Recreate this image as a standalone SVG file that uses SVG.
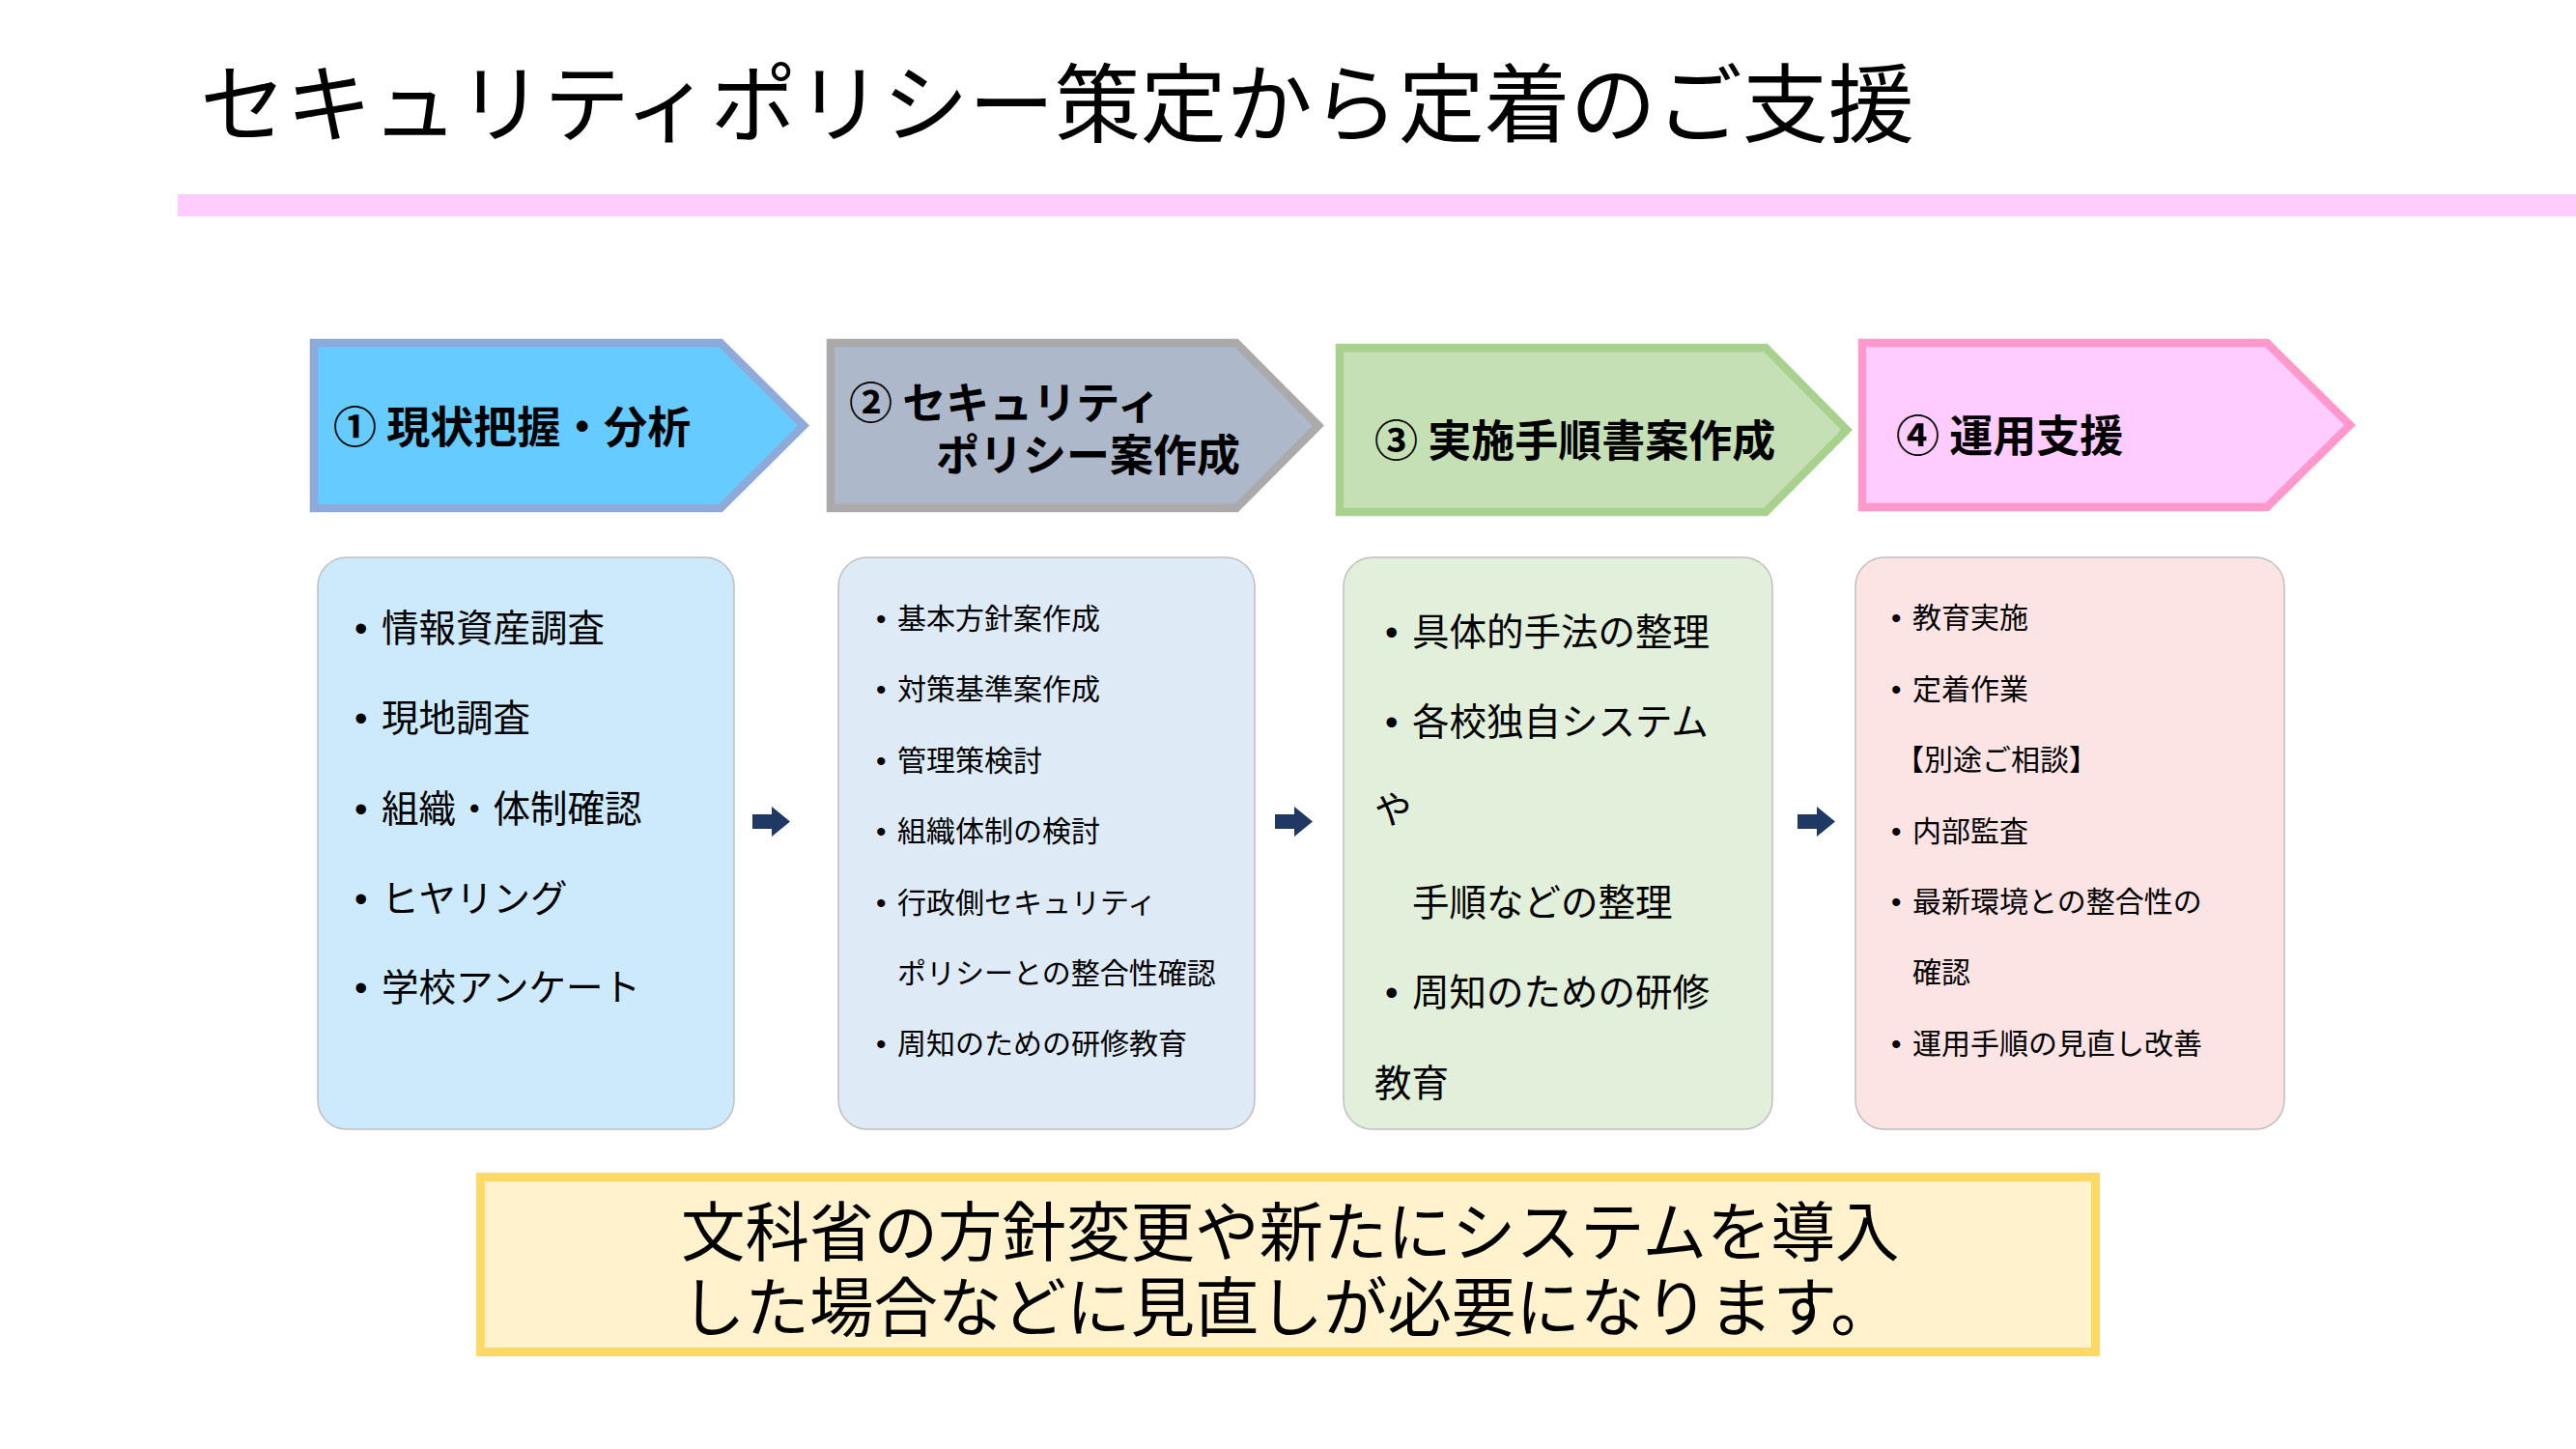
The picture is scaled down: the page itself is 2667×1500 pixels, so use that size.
<svg xmlns="http://www.w3.org/2000/svg" width="2667" height="1500" viewBox="0 0 2667 1500">
<defs>
<style>
text{font-family:"Noto Sans CJK JP","Noto Sans CJK SC",sans-serif;fill:#000}
.title{font-size:89px}
.hd{font-size:45px;font-weight:bold}
.big{font-size:38.5px}
.sm{font-size:30px}
.bl{font-family:"Liberation Sans",sans-serif}
.note{font-size:66.5px}
.card{stroke:#bfbfbf;stroke-width:1.5}
.arrow{fill:#1f3864}
</style>
</defs>
<rect width="2667" height="1500" fill="#ffffff"/>
<g id="title">
<text class="title" x="207" y="140">セキュリティポリシー策定から定着のご支援</text>
<rect x="184" y="201" width="2483" height="23" fill="#ffccff"/>
</g>

<g id="step1">
<polygon points="325,355 746,355 832,440.5 746,526 325,526" fill="#66ccff" stroke="#8eaadb" stroke-width="8.5"/>
<text class="hd" x="345" y="459">① 現状把握・分析</text>
</g>
<g id="step2">
<polygon points="860,355 1280,355 1365,440.5 1280,526 860,526" fill="#adb9ca" stroke="#aba9a9" stroke-width="8.5"/>
<text class="hd"><tspan x="879" y="434">② セキュリティ</tspan><tspan x="969" y="488">ポリシー案作成</tspan></text>
</g>
<g id="step3">
<polygon points="1387,360 1828,360 1912,445 1828,530 1387,530" fill="#c5e0b4" stroke="#a9d18e" stroke-width="8.5"/>
<text class="hd" x="1423" y="473">③ 実施手順書案作成</text>
</g>
<g id="step4">
<polygon points="1928,355 2347,355 2433,440 2347,525 1928,525" fill="#ffccff" stroke="#ff99cc" stroke-width="8.5"/>
<text class="hd" x="1963" y="468">④ 運用支援</text>
</g>

<g id="card1">
<rect class="card" x="329" y="577" width="431" height="592" rx="30" fill="#cdeafc"/>
<text class="big"><tspan class="bl" x="367" y="664">•</tspan><tspan x="395">情報資産調査</tspan></text>
<text class="big"><tspan class="bl" x="367" y="757">•</tspan><tspan x="395">現地調査</tspan></text>
<text class="big"><tspan class="bl" x="367" y="851">•</tspan><tspan x="395">組織・体制確認</tspan></text>
<text class="big"><tspan class="bl" x="367" y="944">•</tspan><tspan x="395">ヒヤリング</tspan></text>
<text class="big"><tspan class="bl" x="367" y="1036">•</tspan><tspan x="395">学校アンケート</tspan></text>
</g>
<g id="card2">
<rect class="card" x="868" y="577" width="431" height="592" rx="30" fill="#deebf7"/>
<text class="sm"><tspan class="bl" x="907" y="651">•</tspan><tspan x="929">基本方針案作成</tspan></text>
<text class="sm"><tspan class="bl" x="907" y="724">•</tspan><tspan x="929">対策基準案作成</tspan></text>
<text class="sm"><tspan class="bl" x="907" y="798">•</tspan><tspan x="929">管理策検討</tspan></text>
<text class="sm"><tspan class="bl" x="907" y="871">•</tspan><tspan x="929">組織体制の検討</tspan></text>
<text class="sm"><tspan class="bl" x="907" y="945">•</tspan><tspan x="929">行政側セキュリティ</tspan></text>
<text class="sm" x="929" y="1018">ポリシーとの整合性確認</text>
<text class="sm"><tspan class="bl" x="907" y="1091">•</tspan><tspan x="929">周知のための研修教育</tspan></text>
</g>
<g id="card3">
<rect class="card" x="1391" y="577" width="444" height="592" rx="30" fill="#e2efda"/>
<text class="big"><tspan class="bl" x="1434" y="668">•</tspan><tspan x="1462">具体的手法の整理</tspan></text>
<text class="big"><tspan class="bl" x="1434" y="761">•</tspan><tspan x="1462">各校独自システム</tspan></text>
<text class="big" x="1423" y="852">や</text>
<text class="big" x="1462" y="948">手順などの整理</text>
<text class="big"><tspan class="bl" x="1434" y="1041">•</tspan><tspan x="1462">周知のための研修</tspan></text>
<text class="big" x="1423" y="1135">教育</text>
</g>
<g id="card4">
<rect class="card" x="1921" y="577" width="444" height="592" rx="30" fill="#fde4e4"/>
<text class="sm"><tspan class="bl" x="1958" y="650">•</tspan><tspan x="1980">教育実施</tspan></text>
<text class="sm"><tspan class="bl" x="1958" y="724">•</tspan><tspan x="1980">定着作業</tspan></text>
<text class="sm" x="1962" y="797">【別途ご相談】</text>
<text class="sm"><tspan class="bl" x="1958" y="871">•</tspan><tspan x="1980">内部監査</tspan></text>
<text class="sm"><tspan class="bl" x="1958" y="944">•</tspan><tspan x="1980">最新環境との整合性の</tspan></text>
<text class="sm" x="1980" y="1017">確認</text>
<text class="sm"><tspan class="bl" x="1958" y="1091">•</tspan><tspan x="1980">運用手順の見直し改善</tspan></text>
</g>

<g id="connectors">
<polygon class="arrow" points="779,843 799,843 799,835 818,850.5 799,866 799,858 779,858"/>
<polygon class="arrow" points="1320,843 1340,843 1340,835 1359,850.5 1340,866 1340,858 1320,858"/>
<polygon class="arrow" points="1861,843 1881,843 1881,835 1900,850.5 1881,866 1881,858 1861,858"/>
</g>

<g id="note">
<rect x="497.5" y="1218.5" width="1672" height="181" fill="#fff2cc" stroke="#ffd966" stroke-width="9"/>
<text class="note"><tspan x="705" y="1300">文科省の方針変更や新たにシステムを導入</tspan><tspan x="705" y="1378">した場合などに見直しが必要になります。</tspan></text>
</g>
</svg>
